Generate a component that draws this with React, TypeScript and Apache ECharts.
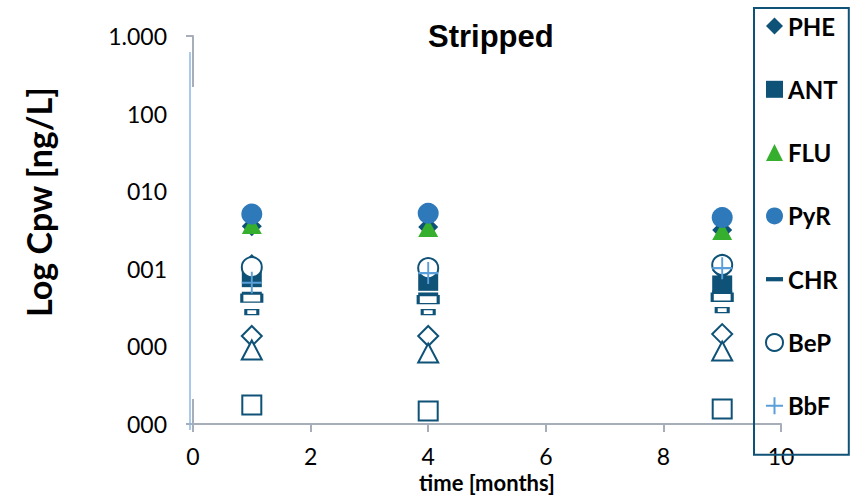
import React, { useEffect, useRef } from "react";
import * as echarts from "echarts";

// ---- data ----
const months = [1, 4, 9];
const PHE = [3.54, 3.46, 3.16];
const ANT = [0.78, 0.7, 0.61];
const FLU = [3.67, 3.36, 3.07];
const PyR = [5.08, 5.2, 4.58];
const CHR = [0.47, 0.46, 0.49];
const BeP = [1.05, 1.02, 1.12];
const BbF = [0.66, 0.88, 1.02];
// series drawn in the plot but not listed in the (truncated) legend
const BaA = [1.15, 0.91, 0.96];
const BkF = [0.42, 0.4, 0.43];
const DahA = [0.277, 0.277, 0.294];
const BaP = [0.136, 0.136, 0.144];
const IcdP = [0.09, 0.082, 0.087];
const BghiP = [0.0176, 0.0147, 0.0156];

const legendNames = ["PHE", "ANT", "FLU", "PyR", "CHR", "BeP", "BbF"];
const yTickValues = [0.01, 0.1, 1, 10, 100, 1000];
const yTickLabels = ["000", "000", "001", "010", "100", "1.000"];
const xTitle = "time [months]";
const yTitle = "Log Cpw [ng/L]";
const chartTitle = "Stripped";

const TEAL = "#0F5277";
const BLUE = "#2E79BA";
const GREEN = "#36AE2E";
const LIGHT = "#5B9FDA";
const GREY = "#A6AFB9";
const PLUS = "path://M0,5L10,5M5,0L5,10";
const DASH = "path://M0,0H18V4.5H0Z";
const W = 859;
const H = 495;

const pts = (vals: number[]) => months.map((m, i) => [m, vals[i]]);

function mk(name: string, vals: number[], symbol: string, size: any, itemStyle: any) {
  return {
    name,
    type: "scatter",
    data: pts(vals),
    symbol,
    symbolSize: size,
    symbolKeepAspect: false,
    itemStyle: { opacity: 1, ...itemStyle },
    emphasis: { disabled: true },
  };
}

const filled = (c: string) => ({ color: c, borderWidth: 0 });
const hollow = { color: "#ffffff", borderColor: TEAL, borderWidth: 2 };

export default function App() {
  const ref = useRef<HTMLDivElement>(null);
  useEffect(() => {
    if (!ref.current) return;
    const chart = echarts.init(ref.current, undefined, { renderer: "svg" });
    const gridLeft = 193, gridTop = 36, gridRight = 78, gridBottom = 71;
    const axisBottom = H - gridBottom;
    const series = [
      mk("PHE", PHE, "diamond", [20, 20], filled(TEAL)),
      mk("ANT", ANT, "rect", [20, 20], filled(TEAL)),
      mk("FLU", FLU, "triangle", [20, 18], filled(GREEN)),
      mk("PyR", PyR, "circle", 21, filled(BLUE)),
      mk("CHR", CHR, "rect", [20, 5], filled(TEAL)),
      mk("BaA", BaA, "diamond", [20, 20], filled(TEAL)),
      mk("BeP", BeP, "circle", 20, hollow),
      mk("BbF", BbF, PLUS, [20, 22], { color: "transparent", borderColor: LIGHT, borderWidth: 2 }),
      mk("BkF", BkF, "rect", [20, 8], hollow),
      mk("DahA", DahA, "rect", [12, 5], hollow),
      mk("BaP", BaP, "diamond", [20, 20], hollow),
      mk("IcdP", IcdP, "triangle", [20, 19], hollow),
      mk("BghiP", BghiP, "rect", [19, 19], hollow),
    ];
    const legendIcons: Record<string, any> = {
      PHE: { icon: "diamond", itemStyle: { color: TEAL, borderWidth: 0, opacity: 1 } },
      ANT: { icon: "rect", itemStyle: { color: TEAL, borderWidth: 0, opacity: 1 } },
      FLU: { icon: "triangle", itemStyle: { color: GREEN, borderWidth: 0, opacity: 1 } },
      PyR: { icon: "circle", itemStyle: { color: BLUE, borderWidth: 0, opacity: 1 } },
      CHR: { icon: DASH, itemStyle: { color: TEAL, borderWidth: 0, opacity: 1 } },
      BeP: { icon: "circle", itemStyle: { color: "#fff", borderColor: TEAL, borderWidth: 2, opacity: 1 } },
      BbF: { icon: PLUS, itemStyle: { color: "transparent", borderColor: LIGHT, borderWidth: 2, opacity: 1 } },
    };
    chart.setOption({
      animation: false,
      title: {
        text: chartTitle,
        left: 428,
        top: 21,
        padding: 0,
        textStyle: { fontFamily: "Liberation Sans", fontWeight: "bold", fontSize: 31, color: "#000" },
      },
      legend: {
        orient: "vertical",
        left: 754,
        top: 8,
        padding: [6, 11, 37, 11],
        itemWidth: 17,
        itemHeight: 17,
        itemGap: 39.3,
        borderColor: TEAL,
        borderWidth: 2,
        selectedMode: false,
        textStyle: { fontFamily: "Lato", fontWeight: "bold", fontSize: 24, color: "#000" },
        data: legendNames.map((n) => ({ name: n, ...legendIcons[n] })),
      },
      grid: {
        left: gridLeft,
        right: gridRight,
        top: gridTop,
        bottom: gridBottom,
        containLabel: false,
        outerBoundsMode: "none",
      },
      xAxis: {
        type: "value",
        min: 0,
        max: 10,
        interval: 2,
        axisLine: { show: true, onZero: false, lineStyle: { color: GREY, width: 2 } },
        axisTick: { show: true, length: 8, lineStyle: { color: GREY, width: 2 } },
        axisLabel: { fontFamily: "Lato", fontSize: 23, color: "#000", margin: 20 },
        splitLine: { show: false },
      },
      yAxis: {
        type: "log",
        logBase: 10,
        min: 0.01,
        max: 1000,
        axisLine: { show: true, lineStyle: { color: GREY, width: 2 } },
        axisTick: { show: true, length: 7, lineStyle: { color: GREY, width: 2 } },
        axisLabel: {
          fontFamily: "Lato",
          fontSize: 23,
          color: "#000",
          margin: 26,
          formatter: (v: number) => {
            const i = yTickValues.findIndex((t) => Math.abs(Math.log10(t) - Math.log10(v)) < 1e-6);
            return i >= 0 ? yTickLabels[i] : "";
          },
        },
        splitLine: { show: false },
        minorTick: { show: false },
      },
      graphic: [
        {
          type: "rect",
          z: 1,
          shape: { x: gridLeft - 15, y: 87, width: 18, height: 312 },
          style: { fill: "#ffffff" },
        },
        {
          type: "line",
          z: 1,
          shape: { x1: gridLeft - 3, y1: 52, x2: gridLeft - 3, y2: axisBottom + 6 },
          style: { stroke: "#8DB8E6", lineWidth: 1.5 },
        },
        {
          type: "text",
          x: 38,
          y: 202,
          rotation: Math.PI / 2,
          style: {
            text: yTitle,
            font: "bold 34px Lato",
            fill: "#000",
            textAlign: "center",
            textVerticalAlign: "middle",
            align: "center",
            verticalAlign: "middle",
          },
        },
        {
          type: "text",
          x: 487,
          y: 482,
          style: {
            text: xTitle,
            font: "bold 22px Lato",
            fill: "#000",
            textAlign: "center",
            textVerticalAlign: "middle",
            align: "center",
            verticalAlign: "middle",
          },
        },
      ],
      series,
    });
    return () => chart.dispose();
  }, []);
  return (
    <div
      ref={ref}
      style={{ position: "fixed", left: 0, top: 0, width: W, height: H, background: "#fff" }}
    />
  );
}
